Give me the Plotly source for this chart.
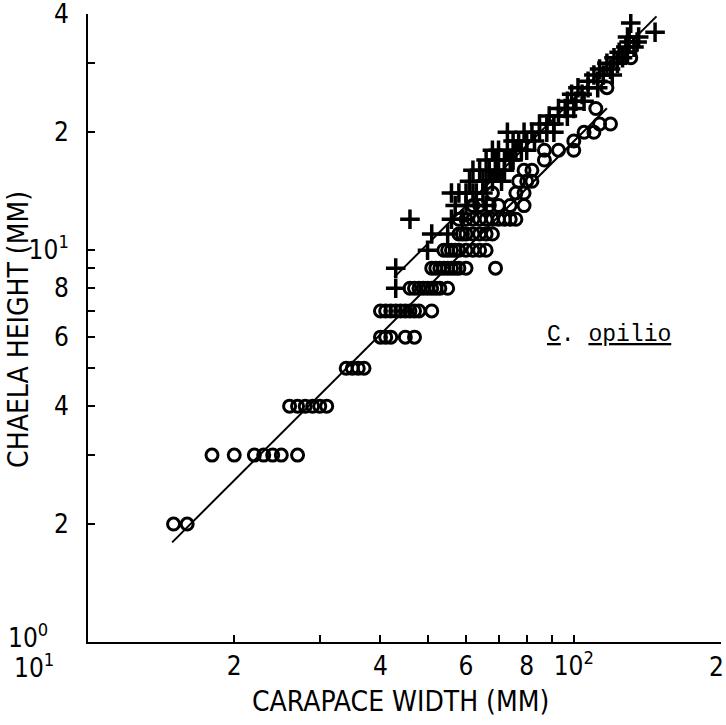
import numpy as np
import plotly.graph_objects as go

# ---------------- data ----------------
# Immature (open circles): chela height rows and carapace widths
imm_y = [2, 2,
         3, 3, 3, 3, 3, 3, 3,
         4, 4, 4, 4, 4, 4,
         5, 5, 5, 5,
         6, 6, 6, 6, 6,
         7, 7, 7, 7, 7, 7, 7, 7, 7, 7,
         8, 8, 8, 8, 8, 8, 8, 8, 8,
         9, 9, 9, 9, 9, 9, 9, 9, 9, 9,
         10, 10, 10, 10, 10, 10, 10, 10, 10,
         11, 11, 11, 11, 11, 11, 11,
         12, 12, 12, 12, 12, 12, 12, 12, 12, 12,
         13, 13, 13, 13, 13, 13,
         14, 14, 14,
         15, 15, 15,
         16, 16,
         17,
         18, 18, 18,
         19,
         20, 20,
         21, 21,
         23,
         26,
         31]
imm_x = [15, 16,
         18, 20, 22, 23, 24, 25, 27,
         26, 27, 28, 29, 30, 31,
         34, 35, 36, 37,
         40, 41, 42, 45, 47,
         40, 41, 42, 43, 44, 45, 46, 47, 48, 51,
         46, 47, 48, 49, 50, 51, 52, 53, 55,
         51, 52, 53, 54, 55, 56, 57, 58, 60, 69,
         54, 55, 56, 57, 58, 60, 62, 64, 66,
         58, 59, 60, 62, 64, 66, 68,
         58, 60, 62, 64, 66, 68, 70, 72, 74, 76,
         62, 64, 67, 70, 74, 79,
         68, 76, 79,
         77, 80, 82,
         79, 82,
         87,
         87, 93, 100,
         100,
         105, 110,
         113, 119,
         111,
         117,
         131]

# Mature (plus signs)
mat_x = [43, 43, 50, 51, 55, 46, 56, 59,
         57, 60, 63, 66, 56, 58, 60, 62, 63, 65,
         61, 65, 66, 68, 71, 62, 64, 67, 69, 70, 72,
         66, 69, 72, 74, 75, 68, 70, 73, 76, 78, 80,
         75, 77, 80, 83, 73, 79, 82, 85, 88, 91,
         85, 88, 91, 89, 93, 97, 93, 96, 100,
         97, 101, 105, 99, 104, 102, 107, 112,
         107, 112, 110, 115, 120, 113, 119,
         117, 123, 121, 126, 124, 129, 128, 133,
         130, 135, 129, 136, 147, 131]
mat_y = [8, 9, 10, 11, 11, 12, 12, 12,
         13, 13, 13, 13, 14, 14, 14, 14, 14, 14,
         15, 15, 15, 15, 15, 16, 16, 16, 16, 16, 16,
         17, 17, 17, 17, 17, 18, 18, 18, 18, 18, 18,
         19, 19, 19, 19, 20, 20, 20, 20, 20, 20,
         21, 21, 21, 22, 22, 22, 23, 23, 23,
         24, 24, 24, 25, 25, 26, 26, 26,
         27, 27, 28, 28, 28, 29, 29,
         30, 30, 31, 31, 32, 32, 33, 33,
         34, 34, 35, 35, 36, 38]

# Fitted allometric lines: log10(y) = a + b*log10(x), over x range
imm_fit = {"a": -1.198, "b": 1.238, "xmin": 14.9, "xmax": 117}
mat_fit = {"a": -1.079, "b": 1.233, "xmin": 42.7, "xmax": 148}

x_tickvals = [10, 20, 30, 40, 50, 60, 70, 80, 90, 100, 200]
x_ticktext = ["", "2", "", "4", "", "6", "", "8", "", "10<sup>2</sup>", ""]
y_tickvals = [1, 2, 3, 4, 5, 6, 7, 8, 9, 10, 20, 30, 40]
y_ticktext = ["", "2", "", "4", "", "6", "", "8", "", "10<sup>1</sup>", "2", "", "4"]
corner_x_label = "10<sup>1</sup>"
corner_y_label = "10<sup>0</sup>"
end_x_label = "2"

# ---------------- figure ----------------
FONT = "Liberation Sans Narrow, DejaVu Sans Condensed, DejaVu Sans, sans-serif"
TICKSIZE = 26
fig = go.Figure()


def fit_line(f):
    xs = np.array([f["xmin"], f["xmax"]])
    ys = 10 ** (f["a"] + f["b"] * np.log10(xs))
    return xs, ys


for f in (imm_fit, mat_fit):
    lx, ly = fit_line(f)
    fig.add_trace(go.Scatter(x=lx, y=ly, mode="lines",
                             line=dict(color="black", width=2),
                             hoverinfo="skip"))

fig.add_trace(go.Scatter(x=imm_x, y=imm_y, mode="markers",
                         marker=dict(symbol="circle-open", size=12,
                                     color="black", line=dict(width=3, color="black"))))
fig.add_trace(go.Scatter(x=mat_x, y=mat_y, mode="markers",
                         marker=dict(symbol="cross-thin-open", size=14,
                                     color="black", line=dict(width=3.5, color="black"))))

axis_common = dict(type="log", showgrid=False, zeroline=False,
                   showline=True, linecolor="black", linewidth=2,
                   ticks="inside", ticklen=7, tickwidth=2, tickcolor="black",
                   tickfont=dict(family=FONT, size=TICKSIZE, color="black"),
                   ticklabeloverflow="allow",
                   automargin=False)

fig.update_xaxes(range=[1, np.log10(200) + 0.002], tickvals=x_tickvals, ticktext=x_ticktext,
                 **axis_common)
fig.update_yaxes(range=[0, np.log10(40) + 0.001], tickvals=y_tickvals, ticktext=y_ticktext,
                 ticklabelstandoff=12, **axis_common)

ann_font = dict(family=FONT, size=28, color="black")
tick_font = dict(family=FONT, size=TICKSIZE, color="black")
fig.add_annotation(text="CARAPACE WIDTH (MM)", xref="paper", yref="paper",
                   x=0.493, y=-0.094, xanchor="center", yanchor="middle",
                   showarrow=False, font=ann_font)
fig.add_annotation(text="CHAELA HEIGHT (MM)", xref="paper", yref="paper",
                   x=-0.109, y=0.497, xanchor="center", yanchor="middle",
                   showarrow=False, textangle=-90, font=ann_font)
fig.add_annotation(text="<u>C</u>. <u>opilio</u>", xref="paper", yref="paper",
                   x=0.823, y=0.489, xanchor="center", yanchor="middle",
                   showarrow=False,
                   font=dict(family="Liberation Mono, DejaVu Sans Mono, monospace",
                             size=23, color="black"))
fig.add_annotation(text=corner_y_label, xref="paper", yref="paper",
                   x=-0.0948, y=0.01, xanchor="center", yanchor="middle",
                   showarrow=False, font=tick_font)
fig.add_annotation(text=corner_x_label, xref="paper", yref="paper",
                   x=-0.0853, y=-0.038, xanchor="center", yanchor="middle",
                   showarrow=False, font=tick_font)
fig.add_annotation(text=end_x_label, xref="paper", yref="paper",
                   x=1.0, y=-0.040, xanchor="right", yanchor="middle", xshift=5,
                   showarrow=False, font=tick_font)

fig.update_layout(width=726, height=725,
                  margin=dict(l=88, r=5, t=14, b=83),
                  plot_bgcolor="white", paper_bgcolor="white",
                  showlegend=False)

# remove the default 8px page margin so the figure fills the window exactly
fig.write_html("out.html", config={"displayModeBar": False},
               post_script="document.body.style.margin='0';")
